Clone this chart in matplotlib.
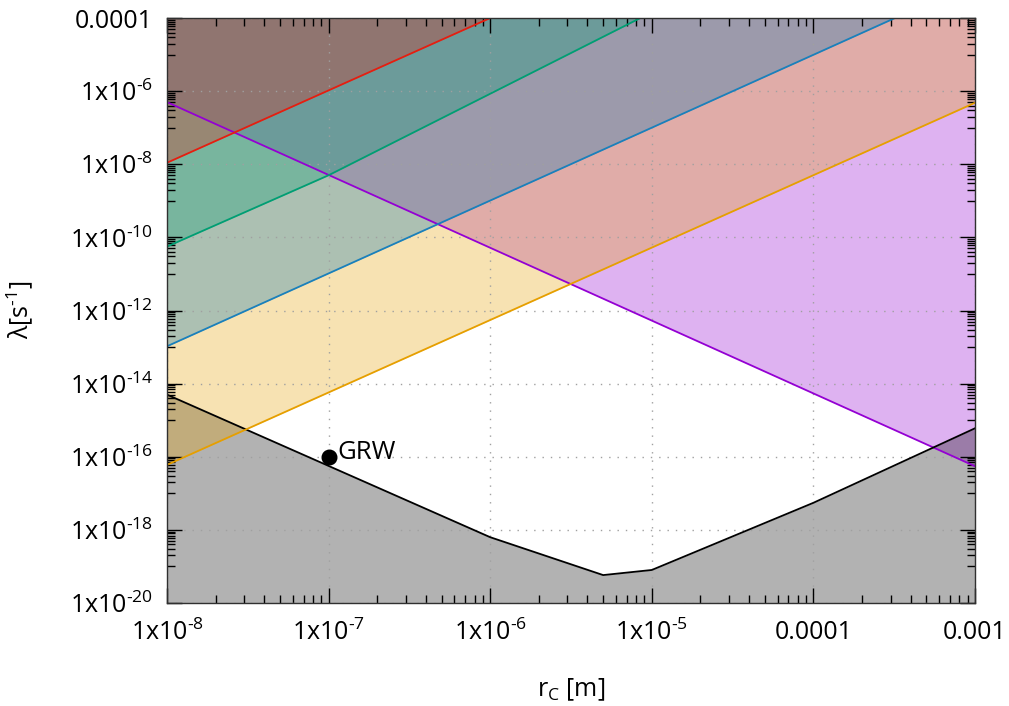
import numpy as np
import matplotlib.pyplot as plt
from matplotlib.ticker import FixedLocator, NullFormatter

plt.rcParams['font.family'] = ['Open Sans', 'DejaVu Sans']
plt.rcParams['mathtext.fontset'] = 'custom'
plt.rcParams['mathtext.rm'] = 'Open Sans'
plt.rcParams['mathtext.it'] = 'Open Sans'
plt.rcParams['mathtext.default'] = 'regular'

# bounds (rc in m, lambda in 1/s)
purple_rc = [1e-8, 1e-3]
purple_lam = [5e-7, 5.5e-17]

black_rc = [1e-8, 1e-6, 5e-6, 1e-5, 1e-4, 1e-3]
black_lam = [5e-15, 6.3e-19, 5.8e-20, 8e-20, 5.5e-18, 6e-16]

orange_rc = [1e-8, 1e-3]
orange_lam = [6e-17, 4.8e-7]

blue_rc = [1e-8, 3.2e-4]
blue_lam = [1.05e-13, 1e-4]

green_rc = [1e-8, 1e-7, 8.5e-6]
green_lam = [5.6e-11, 5e-9, 1e-4]

red_rc = [1e-8, 1e-6]
red_lam = [1.1e-8, 1e-4]

grw_rc = 1e-7
grw_lam = 1e-16


def sup(e):
    return '1x10$^{\\text{-}%d}$' % e


xticks = [1e-8, 1e-7, 1e-6, 1e-5, 1e-4, 1e-3]
xtick_labels = [sup(8), sup(7), sup(6), sup(5), '0.0001', '0.001']
yticks = [1e-20, 1e-18, 1e-16, 1e-14, 1e-12, 1e-10, 1e-8, 1e-6, 1e-4]
ytick_labels = [sup(20), sup(18), sup(16), sup(14), sup(12), sup(10), sup(8), sup(6), '0.0001']

xmin, xmax = 1e-8, 1e-3
ymin, ymax = 1e-20, 1e-4

fig = plt.figure(figsize=(10.09, 7.06), dpi=100)
ax = fig.add_axes([167 / 1009, 1 - 603 / 706, 808 / 1009, 585 / 706])
ax.set_xscale('log')
ax.set_yscale('log')

alpha = 0.3
lw = 1.3
# purple: excluded above
ax.fill_between(purple_rc, purple_lam, ymax, color='#9400d3', alpha=alpha, lw=0)
ax.plot(purple_rc, purple_lam, color='#9400d3', lw=lw)
# black: excluded below
ax.fill_between(black_rc, ymin, black_lam, color='black', alpha=alpha, lw=0)
ax.plot(black_rc, black_lam, color='black', lw=lw)
# orange
ax.fill_between(orange_rc, orange_lam, ymax, color='#e69f00', alpha=alpha, lw=0)
ax.plot(orange_rc, orange_lam, color='#e69f00', lw=lw)
# blue
ax.fill_between(blue_rc, blue_lam, ymax, color='#0072b2', alpha=alpha, lw=0)
ax.plot(blue_rc, blue_lam, color='#1a80bb', lw=lw)
# green
ax.fill_between(green_rc, green_lam, ymax, color='#009e73', alpha=alpha, lw=0)
ax.plot(green_rc, green_lam, color='#009e73', lw=lw)
# red
ax.fill_between(red_rc, red_lam, ymax, color='#e51e10', alpha=alpha, lw=0)
ax.plot(red_rc, red_lam, color='#e51e10', lw=lw)

# GRW point
ax.plot([grw_rc], [grw_lam], 'o', color='black', ms=10.5)
ax.annotate('GRW', (grw_rc, grw_lam), xytext=(6, 3), textcoords='offset points',
            fontsize=18.5, ha='left', va='center')

ax.set_xlim(xmin, xmax)
ax.set_ylim(ymin, ymax)

ax.xaxis.set_major_locator(FixedLocator(xticks))
ax.set_xticklabels(xtick_labels)
ax.yaxis.set_major_locator(FixedLocator(yticks))
ax.set_yticklabels(ytick_labels)

xminor = [k * 10.0 ** n for n in range(-8, -3) for k in range(2, 10)]
yminor = [k * 10.0 ** (n + 1) for n in range(-20, -5, 2) for k in range(1, 10)]
ax.xaxis.set_minor_locator(FixedLocator(xminor))
ax.yaxis.set_minor_locator(FixedLocator(yminor))
ax.xaxis.set_minor_formatter(NullFormatter())
ax.yaxis.set_minor_formatter(NullFormatter())

ax.tick_params(which='both', direction='in', top=True, right=True, width=1.0, colors='black')
ax.tick_params(which='major', length=11, labelsize=18, pad=10)
ax.tick_params(which='minor', length=5.5)
ax.tick_params(axis='x', which='major', pad=12)

ax.grid(True, which='major', color='#a0a0a0', linestyle=(0, (1, 5)), lw=1.0)
for sp in ax.spines.values():
    sp.set_linewidth(1.0)
    sp.set_color('#303030')

fig.text(571 / 1009, 1 - 690 / 706, 'r$_{C}$ [m]', fontsize=18, ha='center', va='center')
fig.text(20 / 1009, 1 - 310 / 706, 'λ[s$^{\\text{-}1}$]', fontsize=18, ha='center', va='center', rotation=90)

fig.savefig('out.png', dpi=100)
